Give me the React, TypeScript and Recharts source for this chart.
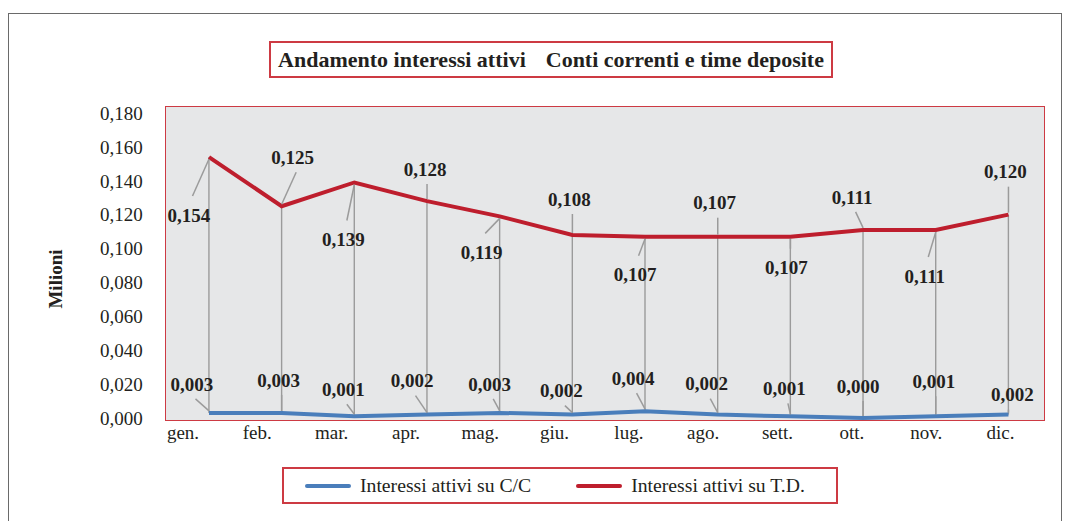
import React from "react";
import {
	ComposedChart,
	Line,
	Bar,
	XAxis,
	YAxis,
	LabelList,
	Legend,
} from "recharts";

// ─── Dati (milioni) ────────────────────────────────────────────────────────

const mesi = ["gen.", "feb.", "mar.", "apr.", "mag.", "giu.", "lug.", "ago.", "sett.", "ott.", "nov.", "dic."];

const interessiCC = [0.003, 0.003, 0.001, 0.002, 0.003, 0.002, 0.004, 0.002, 0.001, 0.0, 0.001, 0.002];

const interessiTD = [0.154, 0.125, 0.139, 0.128, 0.119, 0.108, 0.107, 0.107, 0.107, 0.111, 0.111, 0.12];

const yTicks = [0, 0.02, 0.04, 0.06, 0.08, 0.1, 0.12, 0.14, 0.16, 0.18];

const data = mesi.map((mese, i) => ({
	mese,
	cc: interessiCC[i],
	td: interessiTD[i],
}));

// ─── Stile ─────────────────────────────────────────────────────────────────

const Colors = {
	td: "#BE1E2D",
	cc: "#4A7EBB",
	frame: "#CD3A43",
	plotBg: "#E6E7E8",
	leader: "#9B9B9B",
	text: "#231F20",
	outer: "#6A6A6A",
} as const;

const FONT = '"Liberation Serif", "DejaVu Serif", serif';

// posizione delle etichette rispetto al punto [dx, dy]
const tdLabelOffset = [
	[-20, 58], [11, -49], [-11, 57], [-2, -32], [-18, 36], [-3, -36],
	[-10, 38], [-3, -34], [-4, 31], [-11, -33], [-11, 46], [-3, -43],
];
const ccLabelOffset = [
	[-17, -29], [-3, -33], [-11, -27], [-15, -34], [-10, -29], [-11, -24],
	[-12, -33], [-11, -31], [-6, -28], [-5, -32], [-2, -35], [4, -20],
];

const fmt = (v: number) => v.toFixed(3).replace(".", ",");

// ─── Etichette con linea guida ─────────────────────────────────────────────

function makeLabel(offsets: number[][]) {
	return (props: any) => {
		const { x, y, value, index } = props;
		const [dx, dy] = offsets[index] ?? [0, -20];
		const lx = x + dx;
		const ly = y + dy;
		const above = dy < 0;
		const ex = Math.abs(dx) <= 5 ? x : lx + 3.5;
		const ey = above ? ly + 15 : ly - 19;
		const ty = above ? y - 2 : y + 2;
		return (
			<g>
				<line x1={ex} y1={ey} x2={x} y2={ty} stroke={Colors.leader} strokeWidth={1.5} />
				<text
					x={lx}
					y={ly}
					dy="0.35em"
					textAnchor="middle"
					fontWeight="bold"
					fontSize={19}
					fill={Colors.text}
				>
					{fmt(Number(value))}
				</text>
			</g>
		);
	};
}

// linea verticale fra i due punti dello stesso mese
function DropLine(props: any) {
	const { x, y, width, height } = props;
	const cx = x + width / 2;
	return (
		<line x1={cx} y1={y} x2={cx} y2={y + height} stroke={Colors.leader} strokeWidth={1.4} />
	);
}

function MeseTick(props: any) {
	const { x, y, payload, index } = props;
	const i = index ?? payload?.index ?? 0;
	const dx = -26 + (18 * i) / 11;
	return (
		<text x={x + dx} y={y + 21} textAnchor="middle" fontSize={19} fill={Colors.text}>
			{payload.value}
		</text>
	);
}

function LegendBox(props: any) {
	const items = (props.payload ?? []).filter((p: any) => p.type !== "none");
	return (
		<div
			style={{
				boxSizing: "border-box",
				width: 556,
				height: 37,
				border: `2px solid ${Colors.frame}`,
				background: "#fff",
				display: "flex",
				alignItems: "center",
				paddingLeft: 21,
				fontFamily: FONT,
				fontSize: 19.7,
				color: Colors.text,
			}}
		>
			{items.map((p: any, i: number) => (
				<div key={i} style={{ display: "flex", alignItems: "center", marginRight: 45 }}>
					<span
						style={{
							display: "inline-block",
							width: 46,
							height: 4,
							borderRadius: 2,
							background: p.color,
							marginRight: 9,
						}}
					/>
					<span style={{ whiteSpace: "nowrap" }}>{p.value}</span>
				</div>
			))}
		</div>
	);
}

export default function App() {
	return (
		<div
			style={{
				position: "absolute",
				left: 0,
				top: 0,
				width: 1069,
				height: 521,
				overflow: "hidden",
				background: "#fff",
				fontFamily: FONT,
			}}
		>
			{/* cornice esterna */}
			<div
				style={{
					position: "absolute",
					left: 8,
					top: 13,
					width: 1054,
					height: 600,
					boxSizing: "border-box",
					border: `1.5px solid ${Colors.outer}`,
				}}
			/>
			{/* titolo */}
			<div
				style={{
					position: "absolute",
					left: 269,
					top: 41,
					width: 564,
					height: 37,
					boxSizing: "border-box",
					border: `2px solid ${Colors.frame}`,
					display: "flex",
					alignItems: "center",
					justifyContent: "center",
					fontWeight: "bold",
					fontSize: 22,
					color: Colors.text,
					whiteSpace: "nowrap",
				}}
			>
				<span>Andamento interessi attivi</span>
				<span style={{ marginLeft: 20 }}>Conti correnti e time deposite</span>
			</div>
			{/* area del grafico */}
			<div
				style={{
					position: "absolute",
					left: 165,
					top: 106,
					width: 880,
					height: 315,
					boxSizing: "border-box",
					border: `1.5px solid ${Colors.frame}`,
					background: Colors.plotBg,
				}}
			/>
			<div style={{ position: "absolute", left: 0, top: 0 }}>
				<ComposedChart
					width={1069}
					height={521}
					data={data}
					margin={{ top: 113, right: 24.2, bottom: 73, left: 112.66 }}
				>
					<XAxis
						dataKey="mese"
						axisLine={false}
						tickLine={false}
						tickSize={0}
						tickMargin={0}
						height={30}
						interval={0}
						tick={<MeseTick />}
					/>
					<YAxis
						width={60}
						domain={[0, 0.18]}
						ticks={yTicks}
						axisLine={false}
						tickLine={false}
						tickSize={0}
						tickMargin={30}
						tickFormatter={fmt}
						tick={{ fill: Colors.text, fontSize: 19 }}
						label={{
							value: "Milioni",
							content: () => (
								<text
									x={55}
									y={279}
									transform="rotate(-90 55 279)"
									textAnchor="middle"
									dy="0.35em"
									fontWeight="bold"
									fontSize={19}
									fill={Colors.text}
								>
									Milioni
								</text>
							),
						}}
					/>
					<Bar
						dataKey={(d: any) => [d.cc, d.td]}
						shape={<DropLine />}
						legendType="none"
						isAnimationActive={false}
					/>
					<Line
						dataKey="cc"
						name="Interessi attivi su C/C"
						stroke={Colors.cc}
						strokeWidth={4}
						dot={false}
						activeDot={false}
						isAnimationActive={false}
					>
						<LabelList dataKey="cc" content={makeLabel(ccLabelOffset)} />
					</Line>
					<Line
						dataKey="td"
						name="Interessi attivi su T.D."
						stroke={Colors.td}
						strokeWidth={4}
						dot={false}
						activeDot={false}
						isAnimationActive={false}
					>
						<LabelList dataKey="td" content={makeLabel(tdLabelOffset)} />
					</Line>
					<Legend
						layout="vertical"
						align="center"
						verticalAlign="middle"
						wrapperStyle={{ left: 282, top: 467, width: 556, height: 37 }}
						content={<LegendBox />}
					/>
				</ComposedChart>
			</div>
		</div>
	);
}
